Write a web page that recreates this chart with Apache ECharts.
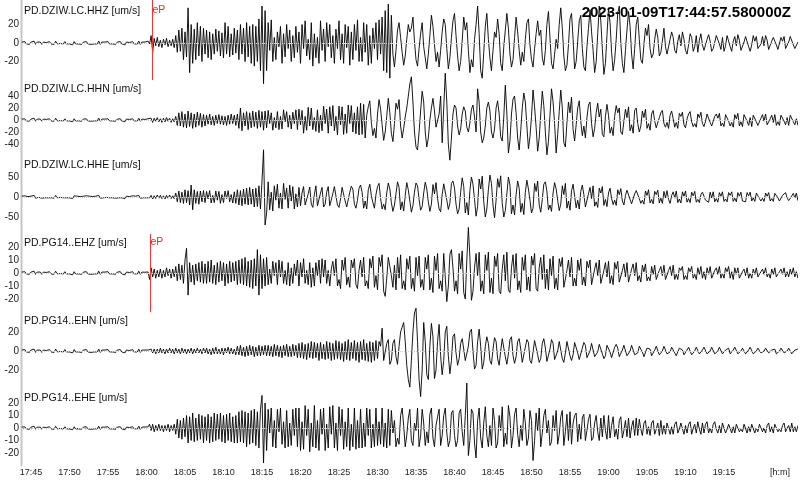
<!DOCTYPE html>
<html><head><meta charset="utf-8">
<script src="https://cdn.jsdelivr.net/npm/echarts@6/dist/echarts.min.js"></script>
<style>html,body{margin:0;padding:0;background:#fff}#c{width:800px;height:483px}</style>
</head><body><div id="c"></div>
<script>
// ---------------- data ----------------
const startTime = '2023-01-09T17:44:57.580000Z';
const channels = ['PD.DZIW.LC.HHZ','PD.DZIW.LC.HHN','PD.DZIW.LC.HHE','PD.PG14..EHZ','PD.PG14..EHN','PD.PG14..EHE'];
const unit = 'um/s';
const xTickLabels = ['17:45','17:50','17:55','18:00','18:05','18:10','18:15','18:20','18:25','18:30','18:35','18:40','18:45','18:50','18:55','19:00','19:05','19:10','19:15'];
const xUnitLabel = '[h:m]';
const yTickValues = [[-20,0,20],[-40,-20,0,20,40],[-50,0,50],[-20,-10,0,10,20],[-20,0,20],[-20,-10,0,10,20]];
const picks = [['18:00:43','eP'], null, null, ['18:00:27','eP'], null, null];
const sampleStart = '17:43:48';
const sampleStepSec = 12;

const hhz = [
1,-1,1.5,-1,0.5,-1.5,1,-1,2,-1.5,1,-0.5,1,-1.5,1,-1,0.5,-1,1.5,-1,
1,-1.5,2,-1,1,-0.5,1,-1,1.5,-1,0.5,-1,1,-2,1.5,-1,1,-1,0.5,-1.5,
1,-1,1.5,-1,1,-1.5,0.5,-1,1,-1,2,-1.5,1,-1,1,-0.5,1.5,-1,1,-1,
0.5,-1.5,1,-1,1.5,-1,1,-2,1,-1,0.5,-1,1.5,-1,1,-1,2,-1.5,1,-1,
1,-1,2,-1,8,-10,5,-3,6,-4,3,-5,4,-2,5,-4,3,-3,4,-5,
8,-10,14,-9,16,-18,12,-15,38,-32,20,-22,15,-18,22,-14,18,-20,16,-12,
14,-16,12,-18,10,-12,15,-9,13,-14,11,-16,22,-12,18,-15,10,-13,16,-11,
14,-18,20,-12,16,-20,22,-15,18,-22,20,-25,18,-20,26,-30,40,-44,35,-30,
22,-8,25,-20,6,-18,12,-4,18,-22,10,-15,20,-6,14,-20,8,-16,18,-10,
12,-22,20,-6,24,-14,4,-18,22,-25,10,-16,6,-22,24,-8,15,-20,22,-4,
20,-16,8,-22,15,-6,24,-18,10,-22,20,-5,18,-24,12,-18,20,-8,25,-20,
6,-20,22,-10,20,-24,8,-22,16,-6,22,-18,25,-12,28,-30,35,-32,42,-38,
30,-12,-26,-8,14,22,6,-10,-24,-14,4,20,12,16,28,2,-18,-25,-6,10,
22,-4,-16,-28,-12,8,30,18,-2,-20,-10,-26,-8,12,26,20,-6,-28,-16,6,
24,32,8,-14,-30,-20,2,28,14,22,-8,-32,-18,-26,4,20,40,10,-30,-38,
-10,18,32,4,-16,-30,-8,12,6,26,10,-22,-30,-4,14,32,16,-12,-26,-18,
6,28,12,-8,-24,-10,-20,4,22,26,-2,-18,-26,-6,10,24,8,14,-16,-24,
-8,20,34,6,-22,-28,-12,4,-6,20,38,16,-14,-30,-24,-2,26,32,4,-28,
-20,2,24,30,-6,-26,-30,-4,16,36,12,-8,-32,-20,10,40,24,-6,-34,-22,
8,38,22,-10,-30,-18,4,32,40,0,-22,-32,-8,14,34,18,-12,-28,-6,20,
28,4,-18,-22,-2,16,8,20,-6,-16,-12,4,15,6,-14,-10,2,16,-4,-12,
-10,4,12,6,-8,-11,2,9,-3,12,4,-8,-12,-2,10,6,-9,-4,8,-10,
3,10,-2,-8,-10,4,9,2,-9,-6,-8,8,10,-1,-7,6,-9,-3,8,9,
-4,-9,2,7,-3,9,3,-8,-6,1,7,8,-4,-9,-2,8,2,7,-6,-8,
-1,7,-3,8,3,-7,-8,2,6,8,-2,-7,-5,6,2,7,-6,-8,1,7,
6,-2,-6,-7,1
];
const hhn = [
1.5,-1.5,2,-1.5,1,-2,1.5,-1.5,3,-2,1.5,-1,1.5,-2,1.5,-1.5,1,-1.5,2,-1.5,
1.5,-2,3,-1.5,1.5,-1,1.5,-1.5,2,-1.5,1,-1.5,1.5,-3,2,-1.5,1.5,-1.5,1,-2,
1.5,-1.5,2,-1.5,1.5,-2,1,-1.5,1.5,-1.5,3,-2,1.5,-1.5,1.5,-1,2,-1.5,1.5,-1.5,
1,-2,1.5,-1.5,2,-1.5,1.5,-3,1.5,-1.5,1,-1.5,2,-1.5,1.5,-1.5,3,-2,1.5,-1.5,
1,-1,2,-1,3,-4,3,-2,4,-3,2,-4,3,-3,4,-2,3,-4,2,-3,
6,-9,12,-10,14,-12,10,-13,15,-11,12,-14,10,-12,13,-9,11,-12,9,-10,
8,-7,10,-8,6,-9,8,-6,9,-7,7,-8,6,-9,8,-7,10,-6,8,-9,
10,-14,20,-18,12,-10,14,-16,12,-13,15,-11,13,-14,16,-12,14,-17,15,-13,
16,-6,12,-17,4,-13,14,-16,6,-15,17,-3,14,-12,8,-15,13,-6,17,-16,
18,-8,16,-22,6,-17,21,-10,20,-16,4,-19,17,-21,8,-18,23,-6,18,-22,
22,-10,24,-18,6,-25,23,-8,22,-24,10,-22,25,-6,24,-20,12,-23,22,-25,
28,-24,26,-30,8,22,32,-4,-26,-14,-30,10,34,18,-8,-34,-20,6,36,12,
-22,-36,-6,28,18,34,-10,-30,-14,5,20,40,60,72,30,-20,-45,-50,-20,15,
48,30,-20,-45,-30,0,20,36,15,-12,-15,10,40,-38,20,78,30,-40,-67,-30,
10,25,20,-10,-25,-15,10,22,15,-12,-20,-5,18,25,5,-20,52,30,-20,-38,
-30,-10,20,30,15,-20,-30,-15,20,32,10,-28,-35,5,58,10,-55,-35,10,35,
40,12,-30,-50,-18,20,45,30,-10,-48,-28,6,50,22,-12,-52,-30,10,48,24,
-20,-58,-36,8,52,30,-6,-55,-24,14,50,20,-38,-45,-4,30,12,38,-16,-35,
-8,20,32,-2,-26,-10,-30,4,25,30,-6,-28,-14,12,28,5,18,-24,-28,6,
26,8,-22,-12,-26,6,24,12,20,-20,-24,-2,18,4,22,-18,-8,-22,16,20,
-6,-20,-10,15,4,18,-14,-6,-17,10,16,-2,-13,-15,4,12,16,-6,-12,-4,
-14,8,15,2,-12,-4,-14,11,6,13,-8,-13,2,10,14,-3,-11,-6,-12,10,
4,13,-6,-11,-2,10,12,-4,-10,-12,6,10,3,11,-10,-5,-11,9,12,-2,
-10,-4,-12,9,2,11,-10,-3,-11,9,10,-2,-9,4,-11,8,10,-3,-9,-10,
3,9,-2,10,-8,-10,2,8,-4,9,-9,-3,-9,8,10,-2,-8,4,-9,8,
9,-3,-8,2,-9
];
const hhe = [
2,-2,3,-2,1,-3,2,-2,4,-3,2,-1,2,-3,2,-2,1,-2,3,-2,
2,-3,4,-2,2,-1,2,-2,3,-2,1,-2,2,-4,3,-2,2,-2,1,-3,
2,-2,3,-2,2,-3,1,-2,2,-2,4,-3,2,-2,2,-1,3,-2,2,-2,
1,-3,2,-2,3,-2,2,-4,2,-2,1,-2,3,-2,2,-2,4,-3,2,-2,
2,-2,1,-2,4,-5,3,-4,5,-3,4,-4,3,-5,4,-3,5,-4,3,-4,
10,-12,15,-14,12,-16,18,-14,16,-20,30,-32,18,-16,14,-18,15,-12,16,-14,
14,-5,16,-15,4,-14,15,-8,14,-16,6,-14,15,-4,16,-12,6,-15,13,-16,
18,-20,16,-22,20,-18,22,-20,24,-18,20,-25,22,-24,28,-30,40,118,-70,-40,
38,-32,12,-35,28,-8,32,-28,10,-30,34,-6,22,-28,30,-10,26,-30,8,-25,
24,-22,10,26,-20,-24,8,25,-18,-26,6,28,-22,-20,10,24,-25,-18,12,26,
-22,-24,8,26,22,-20,-26,-5,24,28,-10,-25,-20,12,27,20,-18,-28,-8,22,
30,12,-28,-10,-30,18,32,4,-14,-28,6,26,34,-4,-30,-18,-32,10,35,20,
-14,-36,-20,8,38,24,-32,-12,-35,4,36,18,-10,-38,-22,12,35,28,-6,-33,
-24,10,37,20,-12,-36,-18,31,8,36,-4,-30,-37,6,33,38,-8,-31,-16,34,
40,22,-18,-42,-30,12,48,26,-40,-14,-45,16,50,32,-6,-48,-24,45,20,52,
-12,-50,-30,18,55,34,-20,-52,-8,46,24,53,-16,-50,-34,8,50,30,-42,-20,
-45,6,40,22,-38,-16,-44,12,42,20,-8,-40,-28,34,14,40,-20,-38,-6,32,
38,14,-32,-20,-36,10,36,20,-8,-34,-18,28,6,34,-28,-10,-33,16,32,2,
-27,-8,-30,14,30,6,-25,-28,8,24,-4,28,-23,-12,-26,22,10,26,-21,-6,
-24,10,22,-4,-19,-8,-21,18,6,21,-10,-20,4,17,20,-6,-17,-19,8,16,
19,-4,-16,-8,-18,15,4,18,-15,-6,-17,14,6,17,-15,-3,-16,14,-2,16,
-6,-16,4,13,-3,15,-14,-5,-15,13,2,15,-13,-4,-14,12,3,14,-13,-6,
-14,6,12,14,-8,-12,-13,12,-2,13,-12,-4,-13,11,2,13,-11,-5,-12,11,
4,13,-11,-3,-12,11,2,12,-10,-5,-12,11,3,12,-10,-2,-11,10,12,-4,
-10,-3,-11,10,2,11,-10,-4,-11,9,11,-2,-10,-10,4,9,11,-3,-9,-10,
3,9,-2,10,-9
];
const ehz = [
0.7,-0.7,1,-0.7,0.4,-1,0.7,-0.7,1.4,-1,0.7,-0.4,0.7,-1,0.7,-0.7,0.4,-0.7,1,-0.7,
0.7,-1,1.4,-0.7,0.7,-0.4,0.7,-0.7,1,-0.7,0.4,-0.7,0.7,-1.4,1,-0.7,0.7,-0.7,0.4,-1,
0.7,-0.7,1,-0.7,0.7,-1,0.4,-0.7,0.7,-0.7,1.4,-1,0.7,-0.7,0.7,-0.4,1,-0.7,0.7,-0.7,
0.4,-1,0.7,-0.7,1,-0.7,0.7,-1.4,0.7,-0.7,0.4,-0.7,1,-0.7,0.7,-0.7,1.4,-1,0.7,-0.7,
0.6,-0.7,0.8,-5,4,-3,3,-4,2,-3,3,-4,2,-3,4,-2,3,-4,3,-3,
5,-6,7,-5,6,-8,10,19,-17,8,-7,6,-9,7,-6,8,-7,9,-8,7,
-8,9,-7,10,-8,6,-9,8,-7,9,-6,8,-10,7,-8,9,-7,8,-6,9,
-9,10,-8,11,-9,12,-10,9,-11,10,-12,11,-10,18,-17,14,-12,11,-10,12,
-9,3,-8,9,-2,8,-9,10,-3,9,-8,2,-9,8,-10,4,-8,7,-2,10,
-10,8,-3,11,-8,2,-9,8,-11,4,-10,8,-2,10,-8,11,-3,10,-8,2,
-10,3,9,-2,11,-10,-5,-12,10,2,12,-9,-3,-11,10,4,11,-9,-12,2,
10,-3,12,-10,-6,-12,11,4,13,-11,-2,-13,12,5,14,-14,-18,-4,12,13,
-2,-11,6,-13,12,-4,14,-12,-6,-13,11,3,13,-12,-4,-14,12,-2,13,-11,
-5,-13,12,3,14,-13,-4,-15,13,2,15,-12,-6,-14,15,16,-22,-10,14,18,
4,-14,-6,-16,15,3,17,-15,-20,10,35,12,-21,-14,4,15,-2,16,-14,-6,
-16,14,2,16,-15,-4,-16,13,5,15,-14,-16,3,14,-6,16,-13,-15,4,14,
-4,15,-13,-6,-15,12,2,14,-13,-3,-14,13,6,15,-12,-14,4,12,-5,14,
-12,3,-13,11,-2,13,-12,-4,-13,11,5,12,-11,-12,2,10,-3,12,-10,-4,
-10,10,2,11,-9,-3,-10,9,4,10,-9,-10,3,8,-2,10,-8,-9,2,8,
-3,9,-8,-2,-9,8,3,9,-7,-8,2,7,-3,8,-7,-8,3,7,-2,8,
-6,-2,-7,6,1,7,-6,-3,-6,5,-1,6,-5,-6,2,5,-2,6,-5,-6,
2,5,-2,6,-5,-1,-5,4,2,5,-5,-2,-5,4,1,5,-4,-1,-5,4,
-1,5,-4,1,-5,4,-1,5,-4,-5,2,4,-1,5,-4,0,-4,4,1,5,
-4,1,-5,4,-1,4,-4,-5,1,3,-2,4,-4,0,-4,3,-1,4,-3,-4,
1,3,-1,4,-3,0,-4,3,-1,4,-3,-4,1,3,-1,4,-3,1,-3,3,
-1,4,-3,1,-4
];
const ehn = [
1,-1,1.5,-1,0.5,-1.5,1,-1,2,-1.5,1,-0.5,1,-1.5,1,-1,0.5,-1,1.5,-1,
1,-1.5,2,-1,1,-0.5,1,-1,1.5,-1,0.5,-1,1,-2,1.5,-1,1,-1,0.5,-1.5,
1,-1,1.5,-1,1,-1.5,0.5,-1,1,-1,2,-1.5,1,-1,1,-0.5,1.5,-1,1,-1,
0.5,-1.5,1,-1,1.5,-1,1,-2,1,-1,0.5,-1,1.5,-1,1,-1,2,-1.5,1,-1,
1,-1,1,-1,2,-2,2,-3,2,-2,3,-2,2,-3,2,-2,3,-2,2,-3,
3,-2,2,-3,3,-2,2,-3,2,-2,3,-3,2,-2,3,-2,2,-3,3,-2,
3,-3,2,-4,3,-3,4,-3,2,-3,3,-4,3,-2,4,-3,3,-3,2,-4,
5,-4,6,-5,4,-6,5,-5,6,-4,5,-6,4,-5,6,-5,5,-4,6,-5,
6,-5,5,-6,7,-5,6,-6,5,-7,6,-5,7,-6,5,-6,7,-5,6,-7,
8,-7,9,-8,7,-9,8,-7,10,-8,9,-7,8,-10,9,-8,7,-9,10,-8,
9,-10,8,-9,11,-8,10,-9,8,-11,10,-9,12,-10,9,-8,11,-10,9,-12,
10,-9,12,-10,8,-11,10,-12,9,-10,11,-8,10,5,24,-10,-12,8,12,-14,
-10,8,12,-6,-14,5,20,25,30,10,-15,-30,-38,-10,20,40,45,10,-30,-48,
-20,30,10,-25,-30,5,29,15,-29,-20,10,28,-5,-25,-10,20,26,-5,-24,-10,
15,18,-2,-15,-8,8,13,2,-10,-12,5,20,23,0,-19,-15,10,23,5,-19,
-12,5,15,8,-10,-14,2,14,10,-8,-15,0,13,12,-6,-14,-3,12,15,-5,
-13,-6,10,13,2,-12,-11,4,12,9,-10,-13,-1,11,12,-4,-12,-8,8,13,
3,-11,-10,2,12,8,-9,-11,0,10,9,-8,-12,-2,10,11,-5,-10,-4,9,
10,-2,-9,-8,3,9,6,-7,-9,0,8,7,-6,-8,-1,7,8,-3,-8,-5,
6,7,-1,-7,-5,4,7,3,-6,-6,1,6,5,-5,-6,0,6,5,-4,-6,
-2,5,6,-1,-6,-4,3,5,2,-5,-5,1,5,4,-4,-5,0,5,4,-3,
-5,-1,4,5,-2,-5,-3,3,5,1,-4,-5,1,4,3,-4,-4,0,4,3,
-3,-4,1,4,3,-3,-4,0,4,3,-3,-4,0,4,3,-3,-4,1,3,3,
-3,-3,1,4,2,-3,-4,0,3,3,-3,-3,1,4,2,-3,-3,0,3,3,
-2,-4,0,3,3,-2,-3,1,3,2,-3,-3,0,3,3,-2,-3,0,3,2,
-3,-3,1,3,2
];
const ehe = [
0.7,-0.7,1,-0.7,0.4,-1,0.7,-0.7,1.4,-1,0.7,-0.4,0.7,-1,0.7,-0.7,0.4,-0.7,1,-0.7,
0.7,-1,1.4,-0.7,0.7,-0.4,0.7,-0.7,1,-0.7,0.4,-0.7,0.7,-1.4,1,-0.7,0.7,-0.7,0.4,-1,
0.7,-0.7,1,-0.7,0.7,-1,0.4,-0.7,0.7,-0.7,1.4,-1,0.7,-0.7,0.7,-0.4,1,-0.7,0.7,-0.7,
0.4,-1,0.7,-0.7,1,-0.7,0.7,-1.4,0.7,-0.7,0.4,-0.7,1,-0.7,0.7,-0.7,1.4,-1,0.7,-0.7,
0.8,-0.7,0.9,3,-2,3,-3,2,-2,3,-2,2,-3,2,-2,3,-3,2,-2,3,
-5,7,-8,6,-9,8,-7,10,-12,9,-10,12,-11,8,-10,11,-9,10,-12,9,
-10,11,-12,9,-11,12,-10,11,-9,12,-11,10,-12,11,-10,12,-11,9,-12,10,
-12,13,-11,14,-12,13,-15,12,-13,14,-12,15,-14,13,-16,15,26,-28,20,-18,
15,-4,16,-15,6,-16,15,-3,16,-13,5,-16,14,-15,4,-14,15,-6,16,-15,
16,-18,5,-17,18,-6,15,-19,4,-15,18,-16,6,-18,15,-5,16,-18,3,-16,
17,-5,18,-16,4,-18,17,-6,15,-17,5,-15,16,-18,3,-15,16,-17,6,-16,
15,-16,4,-15,16,-6,15,-16,3,-15,16,-14,5,-13,16,-15,4,-16,15,-14,
14,-4,6,-15,-8,-13,10,16,2,-15,-6,8,15,-10,-14,4,-2,16,-15,-6,
15,4,-14,-3,-12,11,16,-8,-15,2,9,15,-14,-6,10,16,-4,-15,-10,12,
14,-6,-15,-10,12,15,-3,-14,10,36,-22,-10,15,12,-12,-24,6,16,-8,-16,
4,17,-6,-15,2,-14,16,6,-16,-12,10,-2,17,-15,-4,-13,18,9,-16,-6,
11,16,-5,-15,2,-10,15,4,-14,-8,14,6,-26,-10,12,-2,16,-15,-4,10,
15,-4,6,-14,-11,10,-2,14,-13,-5,9,14,-14,-3,11,-10,13,-13,4,10,
12,-11,3,-9,8,11,-10,-2,7,11,-10,-8,4,10,-3,-10,8,-7,10,-2,
-9,10,-8,2,9,-7,-1,-9,6,9,-8,-2,6,-7,8,-8,1,6,-6,8,
-6,7,-1,-6,4,6,-5,1,-6,4,6,-5,-1,4,-6,6,-5,2,-5,4,
5,-5,1,-5,3,5,-4,-1,4,5,-5,2,-4,3,5,-5,0,3,-4,5,
-1,-5,4,-4,3,5,-4,0,-4,3,5,-1,-4,2,-4,4,3,-4,-1,3,
4,-4,1,-4,3,4,-3,-1,-3,3,4,-4,1,-3,3,4,-4,0,-3,3,
4,-3,0,-4,2,4,-3,1,-4,3,4,-3,-1,-3,2,4,-3,0,2,-3,
4,-3,1,-3,2
];
const traces = [hhz, hhn, hhe, ehz, ehn, ehe];

// ---------------- layout / style ----------------
const panels = [
  {top:0,    h:80, min:-40,  max:46.49, titleY:11,    pickDy:10.5},
  {top:84,   h:72, min:-60,  max:60,    titleY:89},
  {top:157,  h:80, min:-100, max:100,   titleY:165.5},
  {top:234,  h:78, min:-30,  max:30,    titleY:243.5, pickDy:8.5},
  {top:313,  h:76, min:-40,  max:40,    titleY:321},
  {top:390.5,h:75, min:-30,  max:30,    titleY:398}
];
const ORIGIN = 17*60+45;          // axis minutes counted from 17:45
const XMIN = -1.169, XMAX = 99.48;
function toMin(s){ const p=s.split(':').map(Number); return p[0]*60+p[1]+(p[2]||0)/60 - ORIGIN; }
function fmt(m){ const t=Math.round(m+ORIGIN); const h=Math.floor(t/60), mm=t%60; return h+':'+(mm<10?'0':'')+mm; }
const t0 = toMin(sampleStart), dt = sampleStepSec/60;
const xTickVals = xTickLabels.map(toMin);
const minuteTicks = []; for(let m=-1;m<=99;m++) minuteTicks.push(m);
const FONT = 'Arial, "Liberation Sans", sans-serif';

const grids=[], xAxes=[], yAxes=[], series=[];
const graphics = [
  {type:'rect', shape:{x:20.5,y:0,width:2,height:466}, style:{fill:'#c6c6c6'}, z:1}
];
panels.forEach((p,k)=>{
  grids.push({left:22, right:3, top:p.top, height:p.h});
  const last = k===panels.length-1;
  xAxes.push({
    type:'value', gridIndex:k, min:XMIN, max:XMAX,
    axisLine:{show:false}, splitLine:{show:false},
    axisTick: last ? {show:true, customValues:minuteTicks, length:1.5, lineStyle:{color:'#b0b0b0',width:1}} : {show:false},
    axisLabel: last ? {show:true, customValues:xTickVals, formatter:v=>fmt(v), fontSize:9, fontFamily:FONT, color:'#222', margin:3} : {show:false}
  });
  yAxes.push({
    type:'value', gridIndex:k, min:p.min, max:p.max,
    axisLine:{show:false}, axisTick:{show:false}, splitLine:{show:false},
    axisLabel:{customValues:yTickValues[k], fontSize:10, fontFamily:FONT, color:'#222', margin:3,
      formatter:v=> String(v)}
  });
  const data = traces[k].map((v,i)=>[t0 + dt*i, v]);
  const mlData = [{yAxis:0, lineStyle:{color:'#cfcfcf', type:'dotted', width:1}}];
  let mp = null;
  if (picks[k]) {
    const pm = toMin(picks[k][0]);
    mlData.push([{coord:[pm,p.min], lineStyle:{color:'#ff3030', type:'solid', width:1}}, {coord:[pm, p.max]}]);
    mp = {symbol:'circle', symbolSize:1, itemStyle:{color:'rgba(0,0,0,0)'}, silent:true, animation:false,
      label:{show:true, position:'right', distance:0, formatter:picks[k][1], color:'#ff2020', fontSize:10.5, fontFamily:FONT, offset:[0,p.pickDy]},
      data:[{coord:[pm, p.max]}]};
  }
  const s = {
    type:'line', xAxisIndex:k, yAxisIndex:k, data, symbol:'none', showSymbol:false, clip:false,
    lineStyle:{color:'#000', width:0.9}, animation:false, silent:true, z:3,
    markLine:{symbol:['none','none'], silent:true, animation:false, label:{show:false}, data:mlData}
  };
  if (mp) s.markPoint = mp;
  series.push(s);
  graphics.push({type:'text', x:24, y:p.titleY, z:10,
    style:{text:channels[k]+' ['+unit+']', font:'10.5px '+FONT, fill:'#111', align:'left', verticalAlign:'middle'}});
});
graphics.push({type:'text', x:791, y:13, z:10,
  style:{text:startTime, font:'bold 15px '+FONT, fill:'#000', align:'right', verticalAlign:'middle'}});
graphics.push({type:'text', x:780, y:472.5, z:10,
  style:{text:xUnitLabel, font:'9px '+FONT, fill:'#222', align:'center', verticalAlign:'middle'}});

const chart = echarts.init(document.getElementById('c'), null, {renderer:'canvas'});
chart.setOption({animation:false, backgroundColor:'#fff', grid:grids, xAxis:xAxes, yAxis:yAxes, series, graphic:graphics});
</script></body></html>
